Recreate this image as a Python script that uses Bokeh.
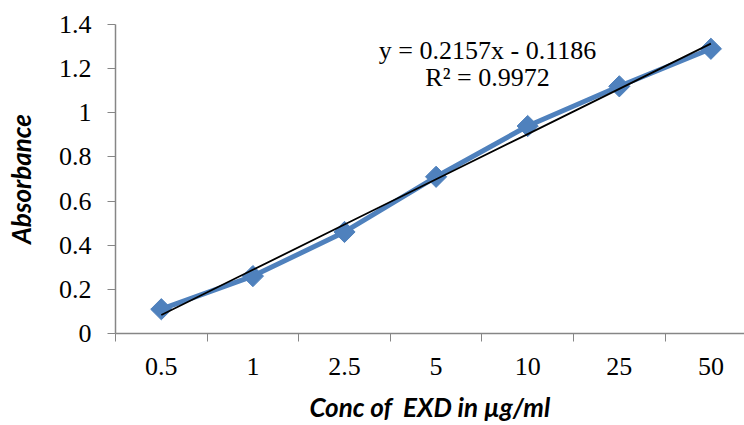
import numpy as np
from bokeh.plotting import figure
from bokeh.models import Range1d, FixedTicker, CustomJSTickFormatter, Label
from bokeh.embed import file_html
from bokeh.resources import INLINE

# ---- data ----
categories = ["0.5", "1", "2.5", "5", "10", "25", "50"]
absorbance = [0.11, 0.26, 0.46, 0.71, 0.94, 1.12, 1.29]
y_ticks = [0, 0.2, 0.4, 0.6, 0.8, 1.0, 1.2, 1.4]
equation_text = "y = 0.2157x - 0.1186"
r2_text = "R\u00b2 = 0.9972"
x_title = "Conc of \u00a0EXD in \u00b5g/ml"
y_title = "Absorbance"

# ---- layout ----
W, H = 744, 425
left, top, bottom = 115, 24, 92
cat_px = 91.6
n = len(categories)
x_end = (W - left) / cat_px

xc = np.arange(n) + 0.5  # category centres
idx = np.arange(1, n + 1)
slope, intercept = np.polyfit(idx, np.array(absorbance), 1)
trend = slope * idx + intercept

p = figure(width=W, height=H, output_backend="svg", toolbar_location=None,
           x_range=Range1d(0, x_end), y_range=Range1d(0, 1.4),
           min_border_left=left, min_border_right=0,
           min_border_top=top, min_border_bottom=bottom)
p.outline_line_color = None
p.xgrid.visible = False
p.ygrid.visible = False
p.background_fill_color = "white"
p.border_fill_color = "white"

blue = "#4F81BD"
axis_gray = "#868686"

p.line(xc, absorbance, line_color=blue, line_width=5)
p.scatter(xc, absorbance, marker="square", angle=np.pi / 4, size=15,
          fill_color=blue, line_color=blue)
p.line(xc, trend, line_color="black", line_width=1.8)

serif = "Liberation Serif"

# x axis
xa = p.xaxis[0]
xa.ticker = FixedTicker(ticks=list(xc), minor_ticks=list(range(0, n + 1)))
xa.formatter = CustomJSTickFormatter(args=dict(labels=categories),
                                     code="return labels[Math.floor(tick)];")
xa.major_tick_out = 0
xa.major_tick_in = 0
xa.minor_tick_out = 8
xa.minor_tick_in = 0
xa.minor_tick_line_color = axis_gray
xa.axis_line_color = axis_gray
xa.axis_line_width = 1.5
xa.major_label_text_font = serif
xa.major_label_text_font_size = "26px"
xa.major_label_text_color = "black"
xa.major_label_standoff = 16
xa.axis_label = x_title
xa.axis_label_text_font = "Lato"
xa.axis_label_text_font_style = "bold italic"
xa.axis_label_text_font_size = "26px"
xa.axis_label_text_color = "black"
xa.axis_label_standoff = 13

# y axis
ya = p.yaxis[0]
ya.ticker = FixedTicker(ticks=y_ticks, minor_ticks=[])
ya.formatter = CustomJSTickFormatter(code="return (Math.round(tick*10)/10).toString();")
ya.major_tick_out = 8
ya.major_tick_in = 0
ya.major_tick_line_color = axis_gray
ya.axis_line_color = axis_gray
ya.axis_line_width = 1.5
ya.major_label_text_font = serif
ya.major_label_text_font_size = "26px"
ya.major_label_text_color = "black"
ya.major_label_standoff = 16
ya.axis_label = y_title
ya.axis_label_text_font = "Lato"
ya.axis_label_text_font_style = "bold italic"
ya.axis_label_text_font_size = "26px"
ya.axis_label_text_color = "black"
ya.axis_label_standoff = 19

lbl_x = (487 - left) / cat_px
for txt, yy in [(equation_text, 1.280), (r2_text, 1.162)]:
    p.add_layout(Label(x=lbl_x, y=yy, text=txt, text_align="center",
                       text_baseline="middle", text_font=serif,
                       text_font_size="26px", text_color="black"))

open("out.html", "w").write(file_html(p, INLINE))
